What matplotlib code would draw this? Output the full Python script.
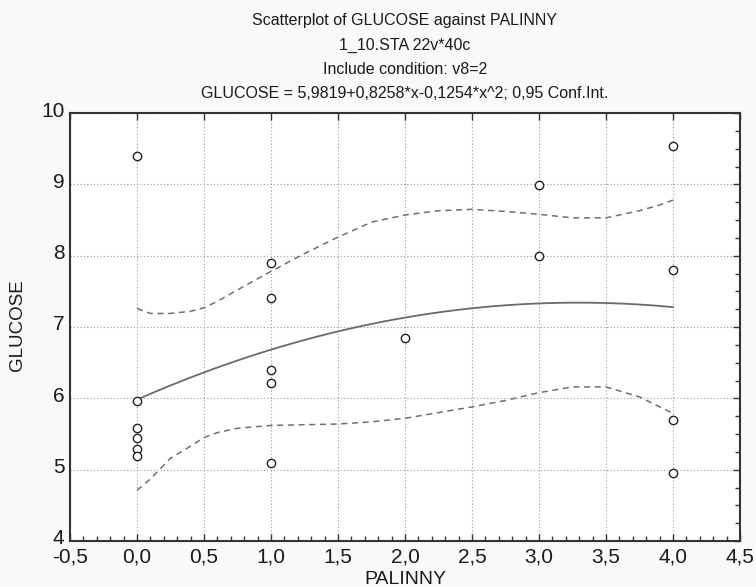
import numpy as np
import matplotlib
matplotlib.use("Agg")
import matplotlib.pyplot as plt
import matplotlib.transforms as mtransforms
from matplotlib.ticker import MultipleLocator, FuncFormatter

# observed points
palinny = [0, 0, 0, 0, 0, 0,
           1, 1, 1, 1, 1,
           2,
           3, 3,
           4, 4, 4, 4]
glucose = [9.40, 5.96, 5.59, 5.45, 5.29, 5.19,
           7.90, 7.40, 6.40, 6.22, 5.09,
           6.85,
           8.99, 8.00,
           9.54, 7.80, 5.69, 4.96]

# regression coefficients from the title (c0 + c1*x + c2*x^2)
coef = [5.9819, 0.8258, -0.1254]

# 0.95 confidence band
band_x = [0.0, 0.1, 0.25, 0.4, 0.5, 0.6, 0.75, 1.0, 1.25, 1.5, 1.75,
          2.0, 2.25, 2.5, 2.75, 3.0, 3.25, 3.5, 3.75, 3.9, 4.0]
band_upper = [7.26, 7.19, 7.19, 7.22, 7.27, 7.36, 7.52, 7.78, 8.03, 8.26, 8.47,
              8.57, 8.63, 8.65, 8.62, 8.58, 8.53, 8.53, 8.63, 8.71, 8.78]
band_lower = [4.71, 4.87, 5.16, 5.33, 5.45, 5.52, 5.58, 5.62, 5.63, 5.64, 5.67,
              5.72, 5.80, 5.88, 5.97, 6.08, 6.16, 6.16, 6.02, 5.88, 5.79]

title_lines = [
    "Scatterplot of GLUCOSE against PALINNY",
    "1_10.STA 22v*40c",
    "Include condition: v8=2",
    "GLUCOSE = 5,9819+0,8258*x-0,1254*x^2; 0,95 Conf.Int.",
]

plt.rcParams["font.family"] = ["Liberation Sans", "DejaVu Sans"]

W, H = 756, 587
fig = plt.figure(figsize=(W / 100, H / 100), dpi=100, facecolor="#f9f9f9")
ax = fig.add_axes([70 / W, 1 - 541 / H, 670 / W, 428 / H])
ax.set_facecolor("white")

ax.grid(True, which="major", color="#9a9a9a", linestyle=(0, (1, 2)), linewidth=0.8)
ax.set_axisbelow(True)

fx = np.linspace(0, 4, 200)
ax.plot(fx, np.polyval(coef[::-1], fx), color="#6a6a6a", linewidth=1.3)
ax.plot(band_x, band_upper, color="#6f6f6f", linewidth=1.1, linestyle=(0, (4, 3)))
ax.plot(band_x, band_lower, color="#6f6f6f", linewidth=1.1, linestyle=(0, (4, 3)))

ax.plot(palinny, glucose, linestyle="none", marker="o", markersize=6,
        markerfacecolor="white", markeredgecolor="#222222", markeredgewidth=1.0)

ax.set_xlim(-0.5, 4.5)
ax.set_ylim(4, 10)
ax.xaxis.set_major_locator(MultipleLocator(0.5))
ax.xaxis.set_minor_locator(MultipleLocator(0.1))
ax.yaxis.set_major_locator(MultipleLocator(1))
ax.yaxis.set_minor_locator(MultipleLocator(0.25))
ax.xaxis.set_major_formatter(FuncFormatter(lambda v, p: f"{v:.1f}".replace(".", ",")))

for s in ax.spines.values():
    s.set_color("#333333")
    s.set_linewidth(1.5)

ax.tick_params(axis="x", which="major", direction="in", length=5, width=1,
               color="#333333", top=True, bottom=True, labelsize=15, pad=5,
               labelcolor="#1a1a1a")
ax.tick_params(axis="x", which="minor", direction="in", length=3.5, width=1,
               color="#333333", top=False, bottom=True)
ax.tick_params(axis="y", which="major", direction="in", length=5, width=1,
               color="#333333", left=False, right=True, labelsize=15, pad=4,
               labelcolor="#1a1a1a")
ax.tick_params(axis="y", which="minor", direction="in", length=3.5, width=1,
               color="#333333", left=False, right=True)

# y tick labels sit a little above their ticks in the original
nudge = mtransforms.ScaledTranslation(0, 4 / 100, fig.dpi_scale_trans)
for lab in ax.get_yticklabels():
    lab.set_transform(lab.get_transform() + nudge)

fig.text(405 / W, 1 - 579 / H, "PALINNY", ha="center", va="center",
         fontsize=14, color="#1a1a1a")
fig.text(18 / W, 1 - 325 / H, "GLUCOSE", ha="center", va="center", rotation=90,
         fontsize=13.5, color="#1a1a1a")

for i, line in enumerate(title_lines):
    fig.text(405 / W, 1 - (21 + 24 * i) / H, line, ha="center", va="center",
             fontsize=11.5, color="#1a1a1a")

fig.savefig("out.png", dpi=100, facecolor=fig.get_facecolor())
